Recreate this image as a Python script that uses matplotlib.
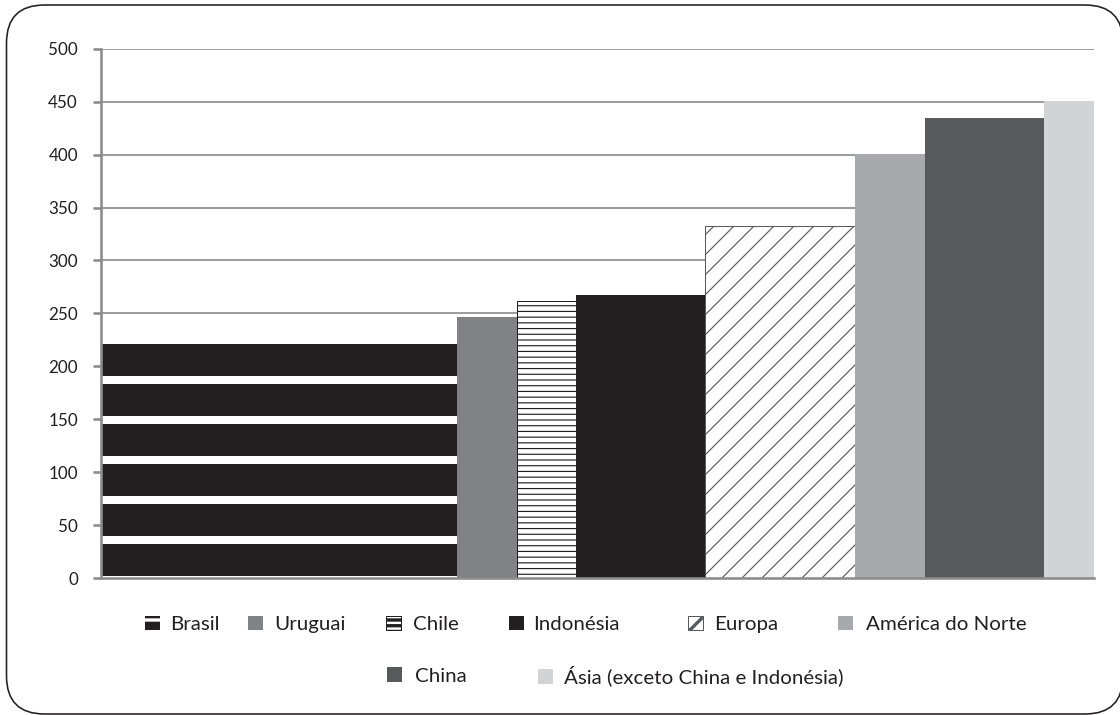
import numpy as np
import matplotlib
matplotlib.use("Agg")
import matplotlib.pyplot as plt
from matplotlib.patches import FancyBboxPatch

# Regions and their values (bar height) and relative extent (bar width)
regioes = ["Brasil", "Uruguai", "Chile", "Indonésia", "Europa",
           "América do Norte", "China", "Ásia (exceto China e Indonésia)"]
valores = [225, 247, 262, 267, 333, 401, 435, 451]
larguras = [355, 60, 59, 129, 149, 70, 119, 50]
y_ticks = [0, 50, 100, 150, 200, 250, 300, 350, 400, 450, 500]

# Fill styles per region: (face, hatch colour, hatch, hatch width pt, edge width pt)
estilos = [
    ("#231f20", "white",   "-",       2.4,  0.0),
    ("#808285", "#808285", "",        0.0,  0.0),
    ("white",   "#231f20", "-------", 0.35, 0.3),
    ("#231f20", "#231f20", "",        0.0,  0.0),
    ("white",   "#58595b", "////",    0.35, 0.3),
    ("#a7a9ac", "#a7a9ac", "",        0.0,  0.0),
    ("#58595b", "#58595b", "",        0.0,  0.0),
    ("#d1d3d4", "#d1d3d4", "",        0.0,  0.0),
]

W, H = 1120, 715
DPI = 240
PT = 72.0 / DPI  # points per pixel

plt.rcParams["font.family"] = ["Lato", "DejaVu Sans"]
fig = plt.figure(figsize=((W + 0.01) / DPI, (H + 0.01) / DPI), dpi=DPI)

ax_left, ax_right, ax_top, ax_bottom = 101, 1094, 48.8, 578
ax = fig.add_axes([ax_left / W, (H - ax_bottom) / H,
                   (ax_right - ax_left) / W, (ax_bottom - ax_top) / H])

esquerdas = np.concatenate([[0], np.cumsum(larguras)[:-1]])
barras = []
for x0, w, v, (face, hcol, hatch, hlw, elw) in zip(esquerdas, larguras, valores, estilos):
    with plt.rc_context({"hatch.linewidth": hlw if hlw else 1.0}):
        b = ax.bar(x0, v, width=w, align="edge", color=face, edgecolor=hcol,
                   hatch=hatch if hatch else None, linewidth=elw, zorder=2)[0]
    if hasattr(b, "set_hatch_linewidth") and hlw:
        b.set_hatch_linewidth(hlw)
    barras.append(b)

ax.set_xlim(0, sum(larguras))
ax.set_ylim(0, 500)
ax.set_yticks(y_ticks)
ax.set_yticklabels([str(t) for t in y_ticks], fontsize=17 * PT, color="#231f20")
ax.set_xticks([])

ax.set_axisbelow(True)
ax.yaxis.grid(True, color="#9d9d9d", linewidth=2.0 * PT, zorder=0)
for s in ("top", "right"):
    ax.spines[s].set_visible(False)
for s in ("left", "bottom"):
    ax.spines[s].set_color("#8c8c8c")
    ax.spines[s].set_linewidth(2.6 * PT)
    ax.spines[s].set_zorder(3)
ax.tick_params(axis="y", length=8 * PT, width=2.6 * PT, color="#8c8c8c",
               pad=15 * PT)

# Legend entries: swatch left edge (px), row centre (px), swatch-to-text gap (px)
pos_legenda = [(145, 624.5, 10), (248, 624.5, 11), (386, 624.5, 12),
               (509, 624.5, 9), (688, 624.5, 11), (838, 624.5, 13),
               (387, 676, 13), (538, 676, 11)]
FS = 20.5
for b, nome, (x, y, gap) in zip(barras, regioes, pos_legenda):
    fig.legend([b], [nome], loc="center left",
               bbox_to_anchor=(x / W, 1 - y / H), frameon=False,
               fontsize=FS * PT, handlelength=15 / FS, handleheight=15 / FS,
               handletextpad=gap / FS, borderpad=0, borderaxespad=0,
               labelcolor="#231f20")

# Rounded outer frame, in pixel units (right side runs past the canvas)
x0f, x1f, y0f, y1f, raio = 6.5, 1123.0, 1.0, 710.0, 38.0
frame = FancyBboxPatch((x0f / DPI, y0f / DPI), (x1f - x0f) / DPI, (y1f - y0f) / DPI,
                       boxstyle=f"round,pad=0,rounding_size={raio / DPI}",
                       transform=fig.dpi_scale_trans, facecolor="white",
                       edgecolor="#231f20", linewidth=1.6 * PT, zorder=-10)
fig.patches.append(frame)

fig.savefig("out.png", dpi=DPI)
